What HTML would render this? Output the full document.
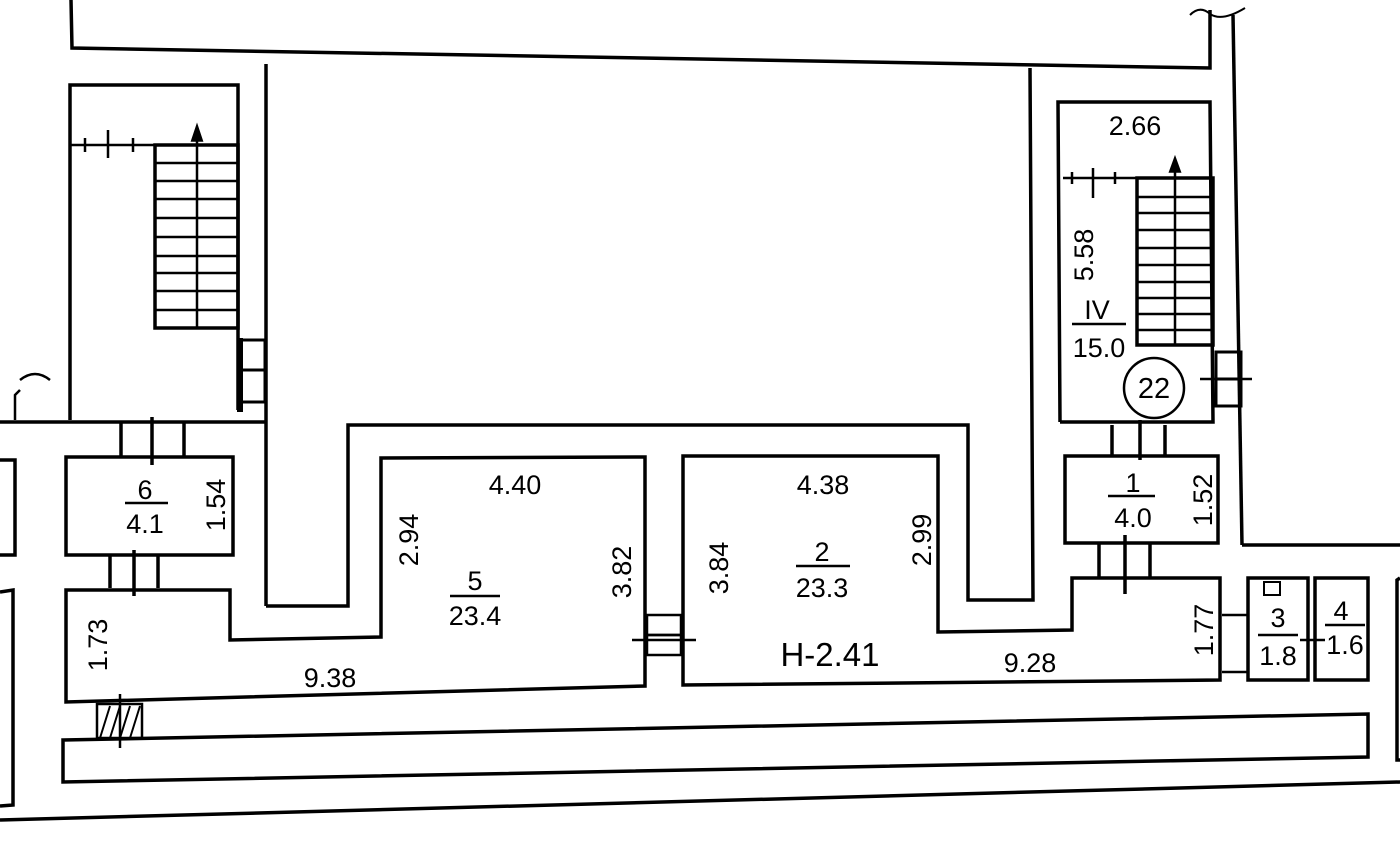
<!DOCTYPE html>
<html><head><meta charset="utf-8"><style>
html,body{margin:0;padding:0;background:#fff;}
svg{display:block;}
text{font-family:"Liberation Sans",sans-serif;fill:#000;}
</style></head><body>
<svg width="1400" height="851" viewBox="0 0 1400 851" xmlns="http://www.w3.org/2000/svg">
<g fill="none" stroke="#000" stroke-width="3.5" stroke-linejoin="miter">
<polyline points="71,0 72,48 1210,68 1210,10"/>
<path d="M1190,15 Q1200,5 1210,14 Q1222,22 1245,8" stroke-width="2"/>
<line x1="1233" y1="15" x2="1242" y2="545"/>
<line x1="1242" y1="545" x2="1400" y2="545"/>
<polyline points="238,410 238,85 70,85 70,420"/>
<line x1="0" y1="422" x2="267" y2="422"/>
<line x1="266" y1="64" x2="266" y2="606"/>
<line x1="70" y1="145" x2="238" y2="145" stroke-width="2.5"/>
<rect x="155" y="145" width="83" height="183"/>
<line x1="197" y1="135" x2="197" y2="328" stroke-width="2.5"/>
<polygon points="197,128 193,140 201,140" fill="#000"/>
<g stroke-width="2.5">
<line x1="155" y1="163" x2="238" y2="163"/><line x1="155" y1="181" x2="238" y2="181"/><line x1="155" y1="199" x2="238" y2="199"/><line x1="155" y1="218" x2="238" y2="218"/><line x1="155" y1="237" x2="238" y2="237"/><line x1="155" y1="256" x2="238" y2="256"/><line x1="155" y1="273" x2="238" y2="273"/><line x1="155" y1="291" x2="238" y2="291"/><line x1="155" y1="310" x2="238" y2="310"/>
<line x1="85" y1="138" x2="85" y2="152"/><line x1="108" y1="130" x2="108" y2="158"/><line x1="133" y1="138" x2="133" y2="152"/>
</g>
<rect x="240" y="340" width="25" height="30" stroke-width="3"/>
<rect x="240" y="370" width="25" height="32" stroke-width="3"/>
<line x1="240" y1="338" x2="240" y2="412" stroke-width="6"/>
<path d="M15,420 L15,395 L20,390 M20,380 Q35,368 50,380" stroke-width="2.5"/>
<polyline points="0,460 15,460 15,555 0,555"/>
<polyline points="0,592 13,590 13,805 0,806"/>
<rect x="66" y="457" width="167" height="98"/>
<line x1="121" y1="422" x2="121" y2="457"/><line x1="184" y1="422" x2="184" y2="457"/><line x1="152" y1="417" x2="152" y2="465"/>
<line x1="110" y1="555" x2="110" y2="588"/><line x1="158" y1="555" x2="158" y2="588"/><line x1="134" y1="550" x2="134" y2="596"/>
<polyline points="266,606 348,606 348,425 968,425 968,600 1033,600 1030,68"/>
<polygon points="66,590 230,590 230,640 381,637 381,458 645,457 645,686 66,702"/>
<polygon points="683,456 938,456 938,632 1072,630 1072,578 1220,578 1220,680 683,685"/>
<rect x="647" y="615" width="34" height="20" stroke-width="2.5"/>
<rect x="647" y="635" width="34" height="20" stroke-width="2.5"/>
<line x1="632" y1="640" x2="696" y2="640" stroke-width="2.5"/>
<rect x="1065" y="456" width="153" height="87"/>
<line x1="1112" y1="425" x2="1112" y2="456"/><line x1="1165" y1="425" x2="1165" y2="456"/><line x1="1140" y1="420" x2="1140" y2="460"/>
<line x1="1099" y1="543" x2="1099" y2="578"/><line x1="1150" y1="543" x2="1150" y2="578"/><line x1="1125" y1="535" x2="1125" y2="594"/>
<polyline points="1060,422 1058,102 1210,102 1213,422 1060,422"/>
<line x1="1063" y1="178" x2="1213" y2="178" stroke-width="2.5"/>
<rect x="1137" y="178" width="76" height="167"/>
<line x1="1175" y1="165" x2="1175" y2="345" stroke-width="2.5"/>
<polygon points="1175,160 1171,171 1179,171" fill="#000"/>
<g stroke-width="2.5">
<line x1="1137" y1="197" x2="1213" y2="197"/><line x1="1137" y1="213" x2="1213" y2="213"/><line x1="1137" y1="230" x2="1213" y2="230"/><line x1="1137" y1="248" x2="1213" y2="248"/><line x1="1137" y1="265" x2="1213" y2="265"/><line x1="1137" y1="282" x2="1213" y2="282"/><line x1="1137" y1="298" x2="1213" y2="298"/><line x1="1137" y1="314" x2="1213" y2="314"/><line x1="1137" y1="330" x2="1213" y2="330"/>
<line x1="1072" y1="172" x2="1072" y2="184"/><line x1="1093" y1="168" x2="1093" y2="198"/><line x1="1115" y1="172" x2="1115" y2="184"/>
</g>
<rect x="1216" y="352" width="25" height="27" stroke-width="3"/>
<rect x="1216" y="379" width="25" height="27" stroke-width="3"/>
<line x1="1200" y1="379" x2="1252" y2="379" stroke-width="2.5"/>
<circle cx="1154" cy="388" r="30" stroke-width="2.5"/>
<rect x="1248" y="578" width="60" height="102"/>
<rect x="1315" y="578" width="53" height="102"/>
<rect x="1264" y="582" width="16" height="13" stroke-width="2"/>
<line x1="1222" y1="615" x2="1248" y2="615" stroke-width="2.5"/><line x1="1222" y1="672" x2="1248" y2="672" stroke-width="2.5"/>
<line x1="1300" y1="640" x2="1325" y2="640" stroke-width="2.5"/>
<polyline points="1400,578 1397,580 1397,760 1400,760"/>
<polygon points="63,740 1368,714 1368,757 63,782"/>
<line x1="0" y1="820" x2="1400" y2="782"/>
<rect x="97" y="704" width="45" height="34" stroke-width="2.5"/>
<g stroke-width="2"><line x1="100" y1="738" x2="110" y2="706"/><line x1="110" y1="738" x2="120" y2="706"/><line x1="120" y1="738" x2="130" y2="706"/><line x1="130" y1="738" x2="140" y2="706"/></g>
<line x1="120" y1="694" x2="120" y2="748" stroke-width="2.5"/>
</g>
<g font-size="27">
<text x="145" y="499" text-anchor="middle">6</text>
<line x1="125" y1="503" x2="168" y2="503" stroke="#000" stroke-width="2.5"/>
<text x="145" y="533" text-anchor="middle">4.1</text>
<text transform="translate(225,505) rotate(-90)" text-anchor="middle">1.54</text>
<text transform="translate(107,645) rotate(-90)" text-anchor="middle">1.73</text>
<text x="330" y="687" text-anchor="middle">9.38</text>
<text x="515" y="494" text-anchor="middle">4.40</text>
<text transform="translate(418,540) rotate(-90)" text-anchor="middle">2.94</text>
<text x="475" y="590" text-anchor="middle">5</text>
<line x1="450" y1="596" x2="500" y2="596" stroke="#000" stroke-width="2.5"/>
<text x="475" y="625" text-anchor="middle">23.4</text>
<text transform="translate(631,572) rotate(-90)" text-anchor="middle">3.82</text>
<text transform="translate(728,568) rotate(-90)" text-anchor="middle">3.84</text>
<text x="823" y="494" text-anchor="middle">4.38</text>
<text transform="translate(931,540) rotate(-90)" text-anchor="middle">2.99</text>
<text x="822" y="561" text-anchor="middle">2</text>
<line x1="796" y1="566" x2="850" y2="566" stroke="#000" stroke-width="2.5"/>
<text x="822" y="597" text-anchor="middle">23.3</text>
<text x="830" y="666" text-anchor="middle" font-size="33">H-2.41</text>
<text x="1030" y="672" text-anchor="middle">9.28</text>
<text transform="translate(1213,630) rotate(-90)" text-anchor="middle">1.77</text>
<text x="1133" y="492" text-anchor="middle">1</text>
<line x1="1108" y1="496" x2="1155" y2="496" stroke="#000" stroke-width="2.5"/>
<text x="1133" y="527" text-anchor="middle">4.0</text>
<text transform="translate(1212,500) rotate(-90)" text-anchor="middle">1.52</text>
<text x="1135" y="135" text-anchor="middle">2.66</text>
<text transform="translate(1093,255) rotate(-90)" text-anchor="middle">5.58</text>
<text x="1097" y="319" text-anchor="middle">IV</text>
<line x1="1072" y1="324" x2="1126" y2="324" stroke="#000" stroke-width="2.5"/>
<text x="1099" y="357" text-anchor="middle">15.0</text>
<text x="1154" y="398" text-anchor="middle" font-size="29">22</text>
<text x="1278" y="627" text-anchor="middle">3</text>
<line x1="1258" y1="635" x2="1298" y2="635" stroke="#000" stroke-width="2.5"/>
<text x="1278" y="665" text-anchor="middle">1.8</text>
<text x="1341" y="620" text-anchor="middle">4</text>
<line x1="1325" y1="625" x2="1365" y2="625" stroke="#000" stroke-width="2.5"/>
<text x="1345" y="654" text-anchor="middle">1.6</text>
</g>
</svg>
</body></html>
